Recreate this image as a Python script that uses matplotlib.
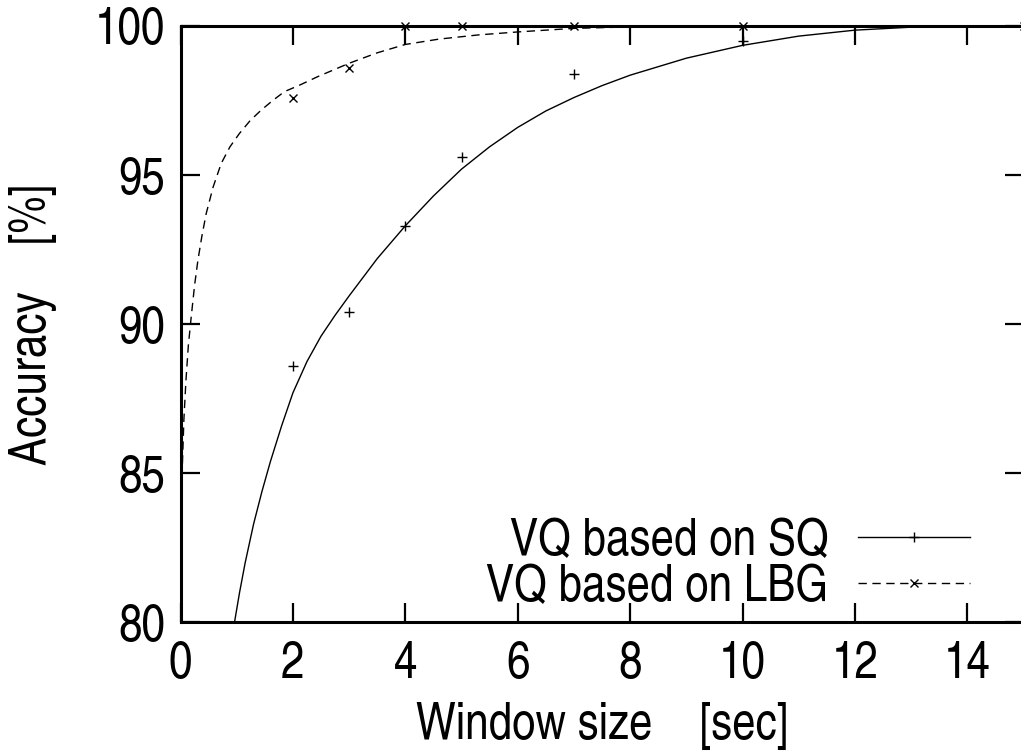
"""Window size vs accuracy for VQ based on SQ and on LBG (gnuplot look)."""

import matplotlib

matplotlib.use("Agg")

import matplotlib.pyplot as plt

# Measured accuracy points
window_sizes = [2, 3, 4, 5, 7, 10, 15]
acc_sq = [88.6, 90.4, 93.3, 95.6, 98.4, 99.5, 100.0]
acc_lbg = [97.6, 98.6, 100.0, 100.0, 100.0, 100.0, 100.0]

# Fitted curves
fit_sq_x = [0.96, 1.05, 1.15, 1.3, 1.45, 1.6, 1.8, 2.0, 2.25, 2.5, 2.75,
            3.0, 3.5, 4.0, 4.5, 5.0, 5.5, 6.0, 6.5, 7.0, 7.5, 8.0, 9.0,
            10.0, 11.0, 12.0, 13.0, 14.0, 15.0]
fit_sq_y = [80.0, 81.0, 82.0, 83.3, 84.4, 85.4, 86.6, 87.7, 88.75, 89.6,
            90.3, 90.95, 92.2, 93.3, 94.3, 95.2, 95.95, 96.6, 97.15, 97.6,
            98.0, 98.35, 98.92, 99.35, 99.66, 99.86, 99.96, 100.0, 100.0]

fit_lbg_x = [0.0, 0.03, 0.06, 0.096, 0.14, 0.19, 0.25, 0.31, 0.38, 0.457,
             0.58, 0.724, 0.88, 1.05, 1.24, 1.436, 1.64, 1.85, 2.1, 2.44,
             3.0, 3.5, 4.0, 4.6, 5.3, 6.0, 7.0, 8.0, 10.0, 15.0]
fit_lbg_y = [83.0, 85.1, 86.8, 88.1, 89.3, 90.24, 91.3, 92.15, 92.95, 93.71,
             94.6, 95.39, 95.95, 96.4, 96.83, 97.18, 97.5, 97.8, 98.0, 98.3,
             98.75, 99.1, 99.38, 99.56, 99.7, 99.8, 99.92, 99.97, 100.0,
             100.0]

x_ticks = [0, 2, 4, 6, 8, 10, 12, 14]
y_ticks = [80, 85, 90, 95, 100]

# condensed Helvetica clone, close to the gnuplot text
plt.rcParams["font.family"] = ["TeX Gyre Heros Cn", "Liberation Sans",
                               "DejaVu Sans"]
plt.rcParams["font.size"] = 37

fig = plt.figure(figsize=(10.21, 7.55), dpi=100)
ax = fig.add_axes([0.1768, 0.1755, 0.8257, 0.7901])

ax.plot(fit_sq_x, fit_sq_y, color="black", linewidth=1.0,
        label="VQ based on SQ", marker="+", markevery=[],
        markersize=7, markeredgewidth=1.0)
ax.plot(fit_lbg_x, fit_lbg_y, color="black", linewidth=1.0,
        linestyle=(0, (6, 4)), label="VQ based on LBG", marker="x",
        markevery=[], markersize=6, markeredgewidth=1.0)

ax.plot(window_sizes, acc_sq, linestyle="none", marker="+", color="black",
        markersize=7, markeredgewidth=1.0, clip_on=False)
ax.plot(window_sizes, acc_lbg, linestyle="none", marker="x", color="black",
        markersize=6, markeredgewidth=1.0, clip_on=False)

ax.set_xlim(0, 15)
ax.set_ylim(80, 100)
ax.set_xticks(x_ticks)
ax.set_yticks(y_ticks)

for spine in ax.spines.values():
    spine.set_linewidth(2.2)

ax.tick_params(direction="in", length=14, width=1.6, top=True, right=True,
               pad=11)
ax.tick_params(axis="x", pad=13)

ax.set_xlabel("Window size    [sec]", labelpad=10)
ax.set_ylabel("Accuracy    [%]", labelpad=27)

leg = ax.legend(loc="lower right", bbox_to_anchor=(0.937, 0.018),
                markerfirst=False, frameon=False, handlelength=2.18,
                handletextpad=0.58, labelspacing=-0.04, numpoints=1,
                borderpad=0, borderaxespad=0)
# one marker in the middle of each key line
for h in leg.legend_handles:
    h.set_markevery([1])

fig.savefig("out.png", dpi=100)
